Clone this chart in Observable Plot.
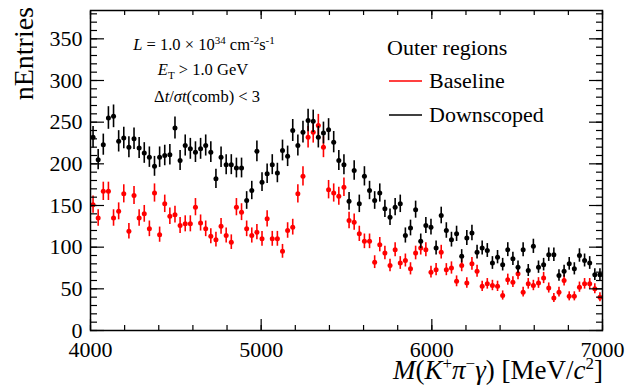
<!DOCTYPE html>
<html><head><meta charset="utf-8">
<script src="https://cdn.jsdelivr.net/npm/d3@7"></script>
<script src="https://cdn.jsdelivr.net/npm/@observablehq/plot@0.6"></script>
<style>body{margin:0;background:#fff} svg{display:block}</style>
</head><body><div id="chart"></div>
<script>
// 30 MeV bins from 4000 to 7000 MeV (bin centres)
const massBins = d3.range(4015, 7000, 30);
const baselineCounts = [151,135,167,167,135,143,164,119,162,135,140,122,165,115,152,137,139,126,128,128,
  148,129,122,113,109,125,114,106,148,142,122,114,118,110,134,110,110,95,120,124,
  164,185,232,238,246,220,169,165,161,172,132,130,116,107,107,82,103,93,78,97,
  81,84,74,93,99,97,70,73,94,73,75,59,78,57,80,71,53,56,54,53,
  42,61,58,68,46,56,54,57,63,51,39,46,60,41,41,52,56,56,50,40];
const downscopedCounts = [232,205,223,255,257,227,231,220,230,219,213,208,197,208,210,211,243,204,222,218,
  214,218,222,214,182,208,199,199,195,195,156,168,215,178,188,199,189,216,209,240,
  222,238,252,251,232,237,241,226,204,199,155,192,152,185,168,156,165,146,136,148,
  152,114,123,145,107,126,124,99,138,120,109,116,89,111,117,94,99,96,81,88,
  79,97,86,76,97,72,101,76,79,91,91,66,71,80,74,90,84,81,67,67];
const seriesNames = ["Baseline", "Downscoped"];
const seriesColors = ["#ff0000", "#000000"];
const yMajorTicks = [0, 50, 100, 150, 200, 250, 300, 350];
const yMinorTicks = d3.range(0, 381, 10);
const xMajorTicks = [4000, 5000, 6000, 7000];
const xMinorTicks = d3.range(4000, 7001, 200);

const rows = (vals, s) => vals.map((v, i) => ({m: massBins[i], n: v, e: Math.sqrt(v) * 0.85, s}));
const red = rows(baselineCounts, seriesNames[0]);
const blk = rows(downscopedCounts, seriesNames[1]);

const font = "'Liberation Serif', 'DejaVu Serif', serif";
const blank = () => "";

const plot = Plot.plot({
  width: 627, height: 386,
  marginLeft: 90, marginRight: 25, marginTop: 10, marginBottom: 56,
  x: {domain: [4000, 7000], label: null},
  y: {domain: [0, 384], label: null},
  style: {fontFamily: font, fontSize: "22px", color: "#000", background: "#fff", overflow: "visible"},
  marks: [
    Plot.ruleX(red, {x: "m", y1: d => d.n - d.e, y2: d => d.n + d.e, stroke: seriesColors[0], strokeWidth: 1.6}),
    Plot.dot(red, {x: "m", y: "n", r: 2.5, fill: seriesColors[0], stroke: null}),
    Plot.ruleX(blk, {x: "m", y1: d => d.n - d.e, y2: d => d.n + d.e, stroke: seriesColors[1], strokeWidth: 1.6}),
    Plot.dot(blk, {x: "m", y: "n", r: 2.5, fill: seriesColors[1], stroke: null}),
    // inward ticks, ROOT style
    Plot.axisY(yMinorTicks, {anchor: "left", tickSize: -7, tickFormat: blank, label: null, strokeWidth: 1.2}),
    Plot.axisY(yMajorTicks, {anchor: "left", tickSize: -14, tickFormat: blank, label: null, strokeWidth: 1.2}),
    Plot.axisY(yMajorTicks, {anchor: "left", tickSize: 0, tickPadding: 8, label: null, fontSize: 22}),
    Plot.axisY(yMinorTicks, {anchor: "right", tickSize: -7, tickFormat: blank, label: null, strokeWidth: 1.2}),
    Plot.axisY(yMajorTicks, {anchor: "right", tickSize: -14, tickFormat: blank, label: null, strokeWidth: 1.2}),
    Plot.axisX(xMinorTicks, {anchor: "bottom", tickSize: -5, tickFormat: blank, label: null, strokeWidth: 1.2}),
    Plot.axisX(xMajorTicks, {anchor: "bottom", tickSize: -11, tickFormat: blank, label: null, strokeWidth: 1.2}),
    Plot.axisX(xMajorTicks, {anchor: "bottom", tickSize: 0, tickPadding: 11, label: null, fontSize: 22, tickFormat: d => String(d)}),
    Plot.axisX(xMinorTicks, {anchor: "top", tickSize: -4, tickFormat: blank, label: null, strokeWidth: 1.2}),
    Plot.axisX(xMajorTicks, {anchor: "top", tickSize: -8, tickFormat: blank, label: null, strokeWidth: 1.2}),
    Plot.frame({stroke: "#000", strokeWidth: 1.5})
  ]
});
document.getElementById("chart").appendChild(plot);

const svg = d3.select(plot);
function addText(x, y, size, parts, anchor) {
  const t = svg.append("text").attr("x", x).attr("y", y).attr("font-size", size)
    .attr("font-family", font).attr("fill", "#000").attr("text-anchor", anchor || "start");
  for (const p of parts) {
    const s = t.append("tspan").text(p.t);
    if (p.i) s.attr("font-style", "italic");
    if (p.dy) s.attr("dy", p.dy);
    if (p.fs) s.attr("font-size", p.fs);
  }
  return t;
}
// y title
svg.append("text").attr("transform", "translate(33,7) rotate(-90)").attr("text-anchor", "end")
  .attr("font-family", font).attr("font-size", 28).attr("fill", "#000").text("nEntries");
// x title
addText(603, 379, 27, [
  {t: "M", i: 1}, {t: "("}, {t: "K", i: 1}, {t: "+", dy: -10, fs: 17}, {t: "π", i: 1, dy: 10},
  {t: "−", dy: -10, fs: 17}, {t: "γ", i: 1, dy: 10}, {t: ") [MeV/"}, {t: "c", i: 1}, {t: "2", dy: -10, fs: 17}, {t: "]", dy: 10}
], "end");
// annotations
addText(204, 50, 16.5, [{t: "L", i: 1}, {t: " = 1.0 × 10"}, {t: "34", dy: -6, fs: 11}, {t: " cm", dy: 6}, {t: "-2", dy: -6, fs: 11}, {t: "s", dy: 6}, {t: "-1", dy: -6, fs: 11}], "middle");
addText(203, 75, 16.5, [{t: "E", i: 1}, {t: "T", dy: 4, fs: 11}, {t: " > 1.0 GeV", dy: -4}], "middle");
addText(207, 101.5, 16.5, [{t: "Δ"}, {t: "t", i: 1}, {t: "/"}, {t: "σt", i: 1}, {t: "(comb) < 3"}], "middle");
// legend
addText(387, 55, 22, [{t: "Outer regions"}]);
const legendRows = [{y: 81, yt: 88}, {y: 115, yt: 121.5}];
seriesNames.forEach((name, k) => {
  svg.append("line").attr("x1", 389).attr("x2", 422).attr("y1", legendRows[k].y).attr("y2", legendRows[k].y)
    .attr("stroke", seriesColors[k]).attr("stroke-width", 1.5);
  addText(429, legendRows[k].yt, 22, [{t: name}]);
});
</script>
</body></html>
